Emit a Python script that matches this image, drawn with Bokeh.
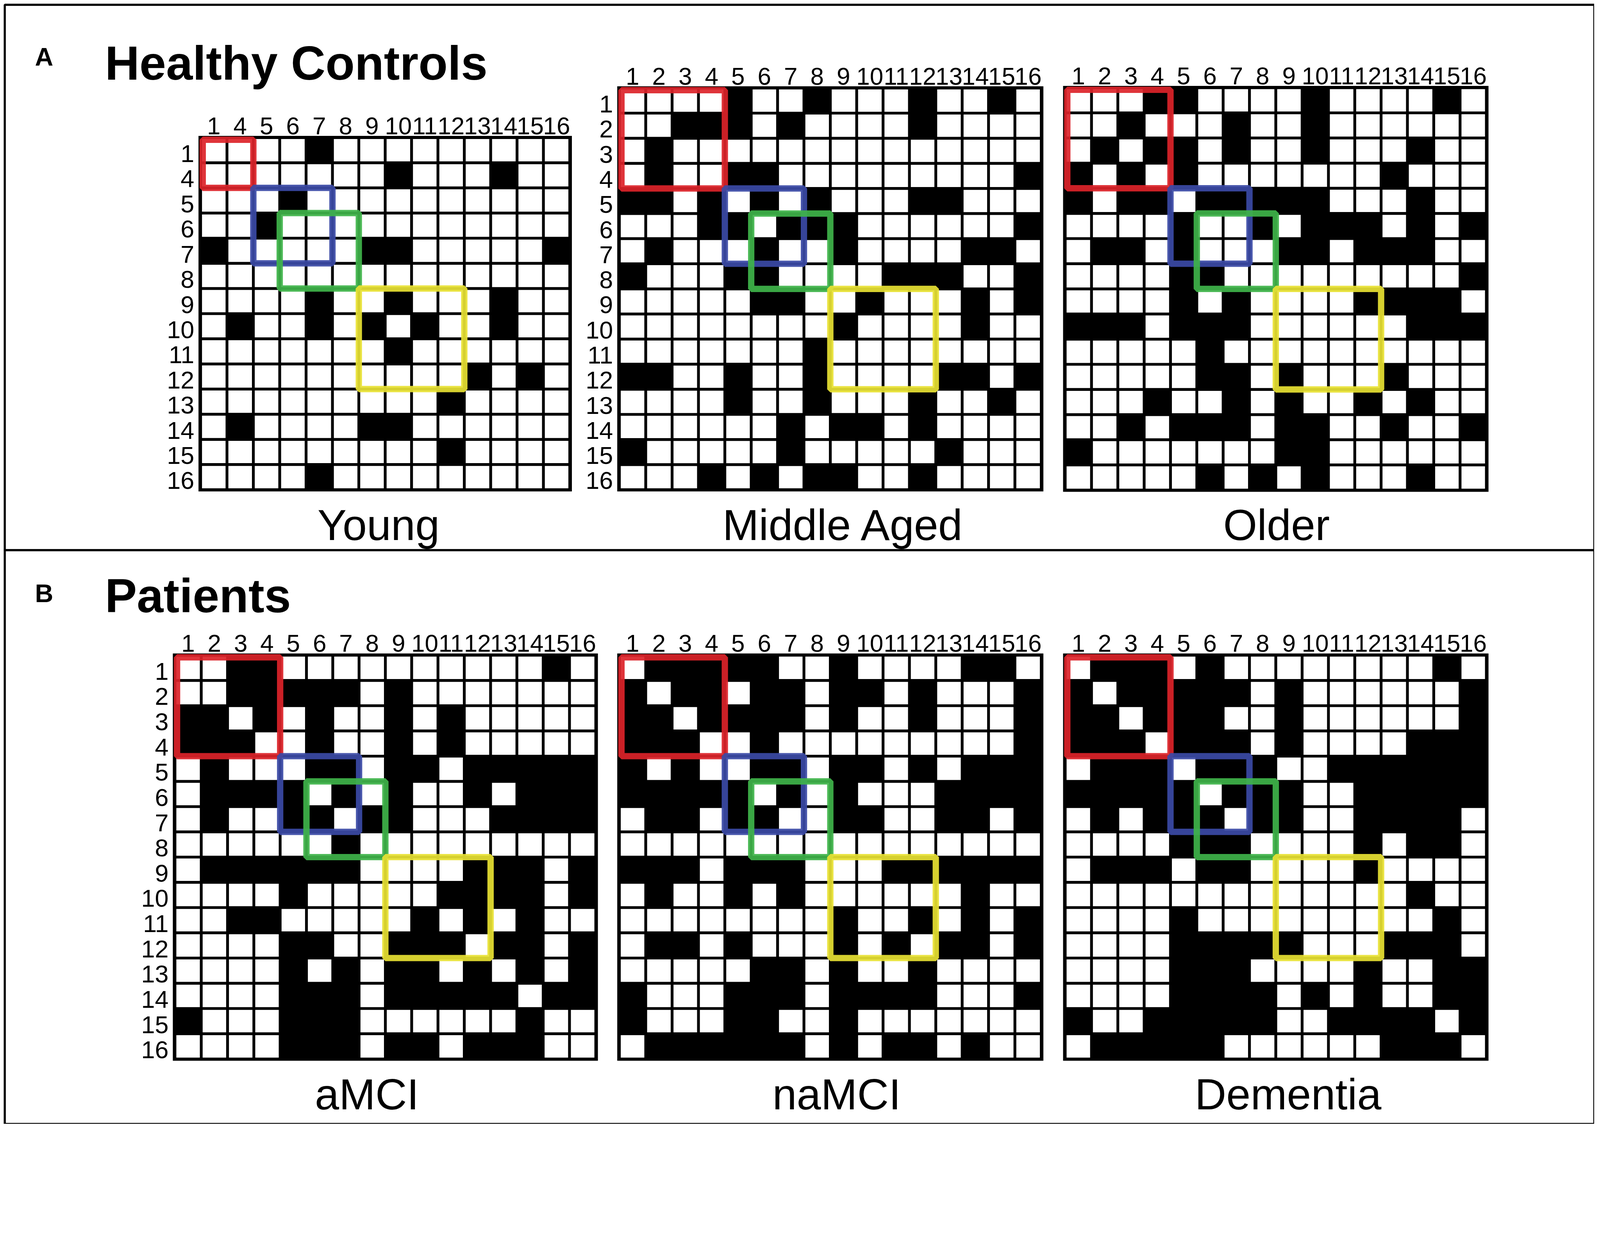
from bokeh.plotting import figure
from bokeh.models import Range1d, ColumnDataSource
from bokeh.embed import file_html
from bokeh.resources import INLINE
from bokeh.core.properties import value

# ---------------- data ----------------
FULL_LABELS = list(range(1, 17))
YOUNG_LABELS = [1, 4, 5, 6, 7, 8, 9, 10, 11, 12, 13, 14, 15, 16]

YOUNG = [
    "00001000000000",
    "00000001000100",
    "00010000000000",
    "00100000000000",
    "10000011000001",
    "00000000000000",
    "00001001000100",
    "01001010100100",
    "00000001000000",
    "00000000001010",
    "00000000010000",
    "01000011000000",
    "00000000010000",
    "00001000000000",
]
MIDDLE_AGED = [
    "0000100100010010",
    "0011101000010000",
    "0100000000000000",
    "0100110000000001",
    "1101010100011000",
    "0001101110000001",
    "0100010010000110",
    "1000110000111001",
    "0000011001000101",
    "0000000010000100",
    "0000000100000000",
    "1100100100001101",
    "0000100100010010",
    "0000001011010000",
    "1000001000001000",
    "0001010110010000",
]
OLDER = [
    "0001100001000010",
    "0010001001000000",
    "0101101001000100",
    "1010100000001000",
    "1011011111000100",
    "0000100101110101",
    "0110100011011100",
    "0000110000000001",
    "0000101000011110",
    "1110111000000111",
    "0000010000000000",
    "0000011010001000",
    "0001001010010100",
    "0010111011001001",
    "1000000011000000",
    "0000010101000100",
]
AMCI = [
    "0011000000000010",
    "0011111010000000",
    "1101010010100000",
    "1110010010100000",
    "0100011011011111",
    "0111101010010111",
    "0100110110001111",
    "0000001000000000",
    "0111111000011101",
    "0000100000111101",
    "0011000001010100",
    "0000110011101101",
    "0000101011010101",
    "0000111011111011",
    "1000111000000100",
    "0000111011011100",
]
NAMCI = [
    "0111110010000110",
    "1011011011010001",
    "1101111010010001",
    "1110010000000001",
    "1010011011010111",
    "1111101010001111",
    "0110110011001101",
    "0000000000000000",
    "1110111000111111",
    "0100101000000100",
    "0000000010010101",
    "0110100010101101",
    "0000011010010000",
    "1000111011110001",
    "1000110010000000",
    "0111111010110100",
]
DEMENTIA = [
    "0111010000000010",
    "1011111010000001",
    "1101110010000001",
    "1110111010000111",
    "0111011100111111",
    "1111101110011111",
    "0101110110011110",
    "0000111000010110",
    "0111011000010000",
    "0000000000000100",
    "0000100000000010",
    "0000111110001110",
    "0000111000010011",
    "0000111101010011",
    "1001111100111101",
    "0111110000001110",
]

GROUP_TITLES = ["Young", "Middle Aged", "Older", "aMCI", "naMCI", "Dementia"]
SHOW_ROW_LABELS = [True, True, False, True, False, False]
PANEL_LETTERS = ["A", "B"]
PANEL_TITLES = ["Healthy Controls", "Patients"]

# module boxes (by node label range) and colours
MODULES = [(1, 4), (5, 7), (6, 8), (9, 12)]
MODULE_COLORS = ["#dc2329", "#3b4aa6", "#3fb44a", "#e8e233"]

# ---------------- layout (reference pixel units) ----------------
S = 0.9            # page scale so the whole figure fits the window
W, H = 4534, 3198
OFF = 2            # data value at the page's top-left corner
GRIDS = [
    (572, 393, 1622, 1395),
    (1763, 252, 2963, 1395),
    (3031, 251, 4229, 1396),
    (499, 1866, 1696, 3015),
    (1763, 1866, 2963, 3015),
    (3031, 1866, 4229, 3015),
]
TITLE_POS = [(1078, 1529), (2401, 1529), (3632, 1529),
             (1045, 3149), (2381, 3149), (3665, 3149)]
MATS = [(YOUNG, YOUNG_LABELS), (MIDDLE_AGED, FULL_LABELS), (OLDER, FULL_LABELS),
        (AMCI, FULL_LABELS), (NAMCI, FULL_LABELS), (DEMENTIA, FULL_LABELS)]

FONT = "Liberation Sans"
BASE_SHIFT = 0.27   # compensation (in em) for the svg alphabetic baseline


def px(v):
    return f"{v * S:.1f}px"


def by(y, size):
    return y - BASE_SHIFT * size


p = figure(width=int(round(W * S)), height=int(round(H * S)), output_backend="svg",
           toolbar_location=None,
           x_range=Range1d(OFF, OFF + W), y_range=Range1d(OFF + H, OFF))
p.axis.visible = False
p.grid.visible = False
p.outline_line_color = None
p.min_border = 0
p.background_fill_color = "white"
p.border_fill_color = "white"

# panel frames
p.quad(left=[15, 15], right=[4536, 4536], top=[15, 1567], bottom=[1567, 3200],
       fill_alpha=0, line_color="black", line_width=6 * S)

GAP = 4
COL_FS, ROW_FS, TITLE_FS = 69, 70, 124
for (cells, labels), (L, T, R, B), title, (tx, ty), show_rows in zip(
        MATS, GRIDS, GROUP_TITLES, TITLE_POS, SHOW_ROW_LABELS):
    n = len(labels)
    cw = (R - L) / n
    ch = (B - T) / n
    # grid background / border
    p.quad(left=[L - 6], right=[R + 6], top=[T - 5], bottom=[B + 5],
           fill_color="black", line_color=None)
    l, r, t, b, col = [], [], [], [], []
    for i, row in enumerate(cells):
        for j, c in enumerate(row):
            on = c == "1"
            inset = 0 if on else GAP
            l.append(L + j * cw + inset)
            r.append(L + (j + 1) * cw - inset)
            t.append(T + i * ch + inset)
            b.append(T + (i + 1) * ch - inset)
            col.append("black" if on else "white")
    src = ColumnDataSource(dict(left=l, right=r, top=t, bottom=b, color=col))
    p.quad(left="left", right="right", top="top", bottom="bottom", fill_color="color",
           line_color=None, source=src)

    # tick labels
    p.text(x=[L + (j + 0.5) * cw for j in range(n)], y=[by(T - 15, COL_FS)] * n,
           text=[str(v) for v in labels], text_align="center", text_baseline="alphabetic",
           text_font=value(FONT), text_font_size=px(COL_FS), text_color="black")
    if show_rows:
        p.text(x=[L - 18] * n, y=[T + (i + 0.5) * ch + 10 for i in range(n)],
               text=[str(v) for v in labels], text_align="right", text_baseline="middle",
               text_font=value(FONT), text_font_size=px(ROW_FS), text_color="black")

    # module boxes
    LW = 18
    for (lo, hi), mc in zip(MODULES, MODULE_COLORS):
        idx = [k for k, v in enumerate(labels) if lo <= v <= hi]
        i0, i1 = idx[0], idx[-1]
        x0 = L + i0 * cw + (6 if i0 == 0 else 0)
        x1 = L + (i1 + 1) * cw - (6 if i1 == n - 1 else 0)
        y0 = T + i0 * ch + (6 if i0 == 0 else 0)
        y1 = T + (i1 + 1) * ch - (6 if i1 == n - 1 else 0)
        p.quad(left=[x0], right=[x1], top=[y0], bottom=[y1], fill_alpha=0,
               line_color=mc, line_width=LW * S, line_alpha=0.92)

    p.text(x=[tx], y=[by(ty, TITLE_FS)], text=[title], text_align="center",
           text_baseline="alphabetic", text_font=value(FONT),
           text_font_size=px(TITLE_FS), text_color="black")

# panel letters and titles
p.text(x=[101, 101], y=[by(183, 72), by(1709, 72)], text=PANEL_LETTERS, text_align="left",
       text_baseline="alphabetic", text_font=value(FONT), text_font_size=px(72),
       text_font_style="bold", text_color="black")
p.text(x=[300, 300], y=[by(218, 136), by(1733, 136)], text=PANEL_TITLES, text_align="left",
       text_baseline="alphabetic", text_font=value(FONT), text_font_size=px(136),
       text_font_style="bold", text_color="black")

open("out.html", "w").write(file_html(p, INLINE))
